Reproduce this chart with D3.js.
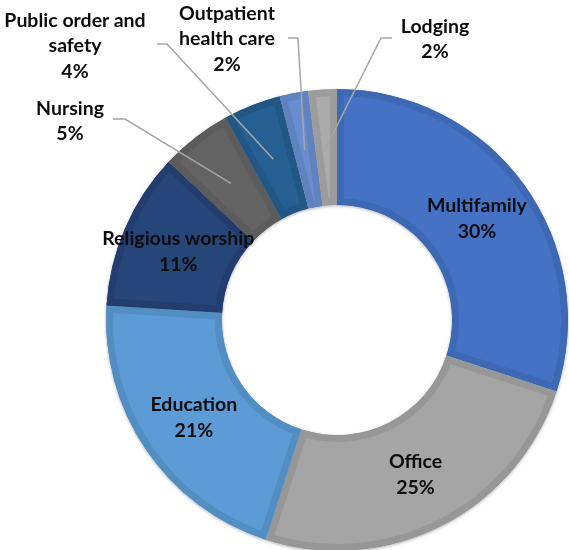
<!DOCTYPE html>
<html>
<head>
<meta charset="utf-8">
<script src="https://cdn.jsdelivr.net/npm/d3@7"></script>
<style>
  html, body { margin: 0; padding: 0; background: #fff; }
  svg { display: block; }
  text { font-family: "Lato", "Open Sans", sans-serif; font-weight: 700; fill: #0d0d0d; }
</style>
</head>
<body>
<svg id="chart" width="569" height="550"></svg>
<script>
// ---- data ----
const categories = ["Multifamily", "Office", "Education", "Religious worship", "Nursing", "Public order and safety", "Outpatient health care", "Lodging"];
const values = [30, 25, 21, 11, 5, 4, 2, 2];
const colors = ["#4472C4", "#A5A5A5", "#5B9BD5", "#264478", "#636363", "#255E91", "#698ED0", "#ABABAB"];
const labelLines = [["Multifamily"], ["Office"], ["Education"], ["Religious worship"], ["Nursing"], ["Public order and", "safety"], ["Outpatient", "health care"], ["Lodging"]];

// ---- layout ----
const W = 569, H = 550;
const cx = 337, cy = 320, rOuter = 231, rInner = 115;
const lineH = 25.5, fontSize = 19.5;
// outside labels: text center of first line, and leader elbow / end
const outside = {
  4: { x: 70, y: 108, elbow: [125, 119], end: [113, 119] },
  5: { x: 75, y: 20, elbow: [167, 44], end: [157, 44] },
  6: { x: 227, y: 13, elbow: [298, 38], end: [288, 38] },
  7: { x: 435, y: 26, elbow: [381, 38], end: [392, 38] }
};

const svg = d3.select("#chart");
const defs = svg.append("defs");
const shadow = defs.append("filter").attr("id", "shadow").attr("x", "-10%").attr("y", "-10%").attr("width", "120%").attr("height", "120%");
shadow.append("feDropShadow").attr("dx", 0).attr("dy", 1).attr("stdDeviation", 1.5).attr("flood-color", "#000").attr("flood-opacity", 0.3);

const g = svg.append("g").attr("transform", `translate(${cx},${cy})`);
const pie = d3.pie().sort(null).value(d => d.value);
const arc = d3.arc().innerRadius(rInner).outerRadius(rOuter);
const data = pie(categories.map((c, i) => ({ name: c, value: values[i], color: colors[i], i })));

data.forEach((d, i) => {
  defs.append("clipPath").attr("id", "clip" + i).append("path").attr("d", arc(d));
});

const slices = g.append("g").attr("filter", "url(#shadow)");
slices.selectAll("path.slice").data(data).join("path")
  .attr("class", "slice")
  .attr("d", arc)
  .attr("fill", d => d.data.color)
  .attr("stroke", d => d3.color(d.data.color).darker(0.25))
  .attr("stroke-width", 14)
  .attr("clip-path", (d, i) => `url(#clip${i})`);

// leader lines
const percent = v => Math.round(v / d3.sum(values) * 100) + "%";
data.forEach((d, i) => {
  const o = outside[i];
  if (!o) return;
  const c = arc.centroid(d);
  const pts = [[c[0] + cx, c[1] + cy], o.elbow, o.end];
  svg.append("path")
    .attr("d", d3.line()(pts))
    .attr("fill", "none")
    .attr("stroke", "#A6A6A6")
    .attr("stroke-width", 1.5);
});

// labels
data.forEach((d, i) => {
  const o = outside[i];
  let x, y0;
  const lines = labelLines[i].concat([percent(d.data.value)]);
  if (o) {
    x = o.x; y0 = o.y;
  } else {
    const c = arc.centroid(d);
    x = c[0] + cx;
    y0 = c[1] + cy - lineH * (lines.length - 1) / 2;
  }
  const t = svg.append("text").attr("text-anchor", "middle").attr("font-size", fontSize);
  lines.forEach((ln, k) => {
    t.append("tspan").attr("x", x).attr("y", y0 + k * lineH).attr("dy", "0.35em").text(ln);
  });
});
</script>
</body>
</html>
